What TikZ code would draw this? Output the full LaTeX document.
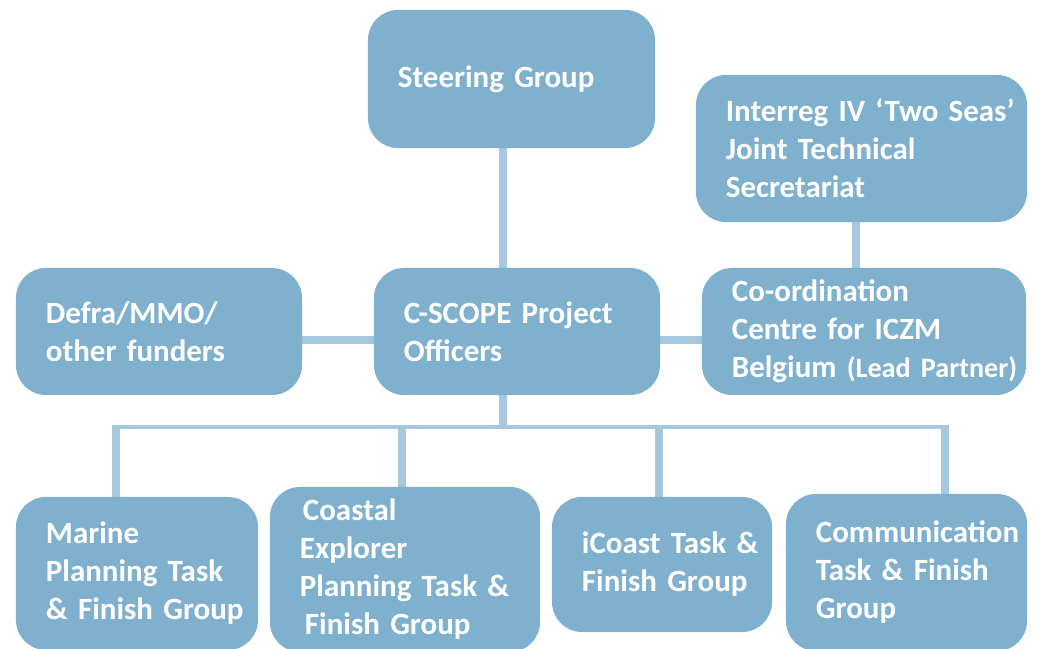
\documentclass[tikz,border=0pt]{standalone}
\usepackage{fontspec}
\setmainfont{Carlito}
\usetikzlibrary{positioning, backgrounds}
\definecolor{orgblue}{HTML}{7FB0CD}
\definecolor{linkblue}{HTML}{A6C8DC}
\tikzset{
  orgbox/.style={rectangle, rounded corners=0.75cm, fill=orgblue, text=white,
                 align=left, inner xsep=0.75cm, inner ysep=0pt,
                 font=\fontsize{22}{27}\selectfont\bfseries},
  link/.style={draw=linkblue, line width=0.2cm},
  bus/.style={draw=linkblue, line width=0.1cm},
}

\begin{document}
\begin{tikzpicture}[x=0.025cm, y=-0.025cm]
  \useasboundingbox (0,0) rectangle (1040,649);

  % top row
  \node[orgbox, text width=5.675cm, minimum height=3.45cm] (steer) at (511.5,79) {Steering Group};
  \node[orgbox, text width=6.775cm, minimum height=3.675cm] (jts) at (861.5,148.5)
    {\mbox{Interreg IV ‘Two Seas’}\\Joint Technical\\Secretariat};

  % middle row
  \node[orgbox, text width=5.65cm, minimum height=3.175cm] (defra) at (159,331.5) {Defra/MMO/\\other funders};
  \node[orgbox, text width=5.65cm, minimum height=3.175cm] (cscope) at (517,331.5) {C-SCOPE Project\\Officers};
  \node[orgbox, text width=6.6cm, minimum height=3.175cm] (icz) at (864,331.5)
    {Co-ordination\\Centre for ICZM\\\mbox{Belgium {\fontsize{20}{27}\selectfont(Lead Partner)}}};

  % task & finish groups
  \node[orgbox, text width=4.55cm, minimum height=3.825cm] (marine) at (137,573.5)
    {Marine\\\mbox{Planning Task}\\\mbox{\& Finish Group}};
  \node[orgbox, text width=5.25cm, minimum height=4.125cm] (coastal) at (405,569.5)
    {\hspace*{0.075cm}Coastal\\Explorer\\\mbox{Planning Task \&}\\\mbox{\hspace*{0.125cm}Finish Group}};
  \node[orgbox, text width=4cm, minimum height=3.375cm] (icoast) at (662,564.5)
    {\mbox{iCoast Task \&}\\\mbox{Finish Group}};
  \node[orgbox, text width=4.525cm, minimum height=3.925cm] (comms) at (906.5,572.5)
    {\mbox{Communication}\\\mbox{Task \& Finish}\\Group};

  % bus under the project officers
  \coordinate (trunk) at (503,427);
  \coordinate (t1) at (116,427);
  \coordinate (t2) at (402,427);
  \coordinate (t3) at (659,427);
  \coordinate (t4) at (945,427);

  \begin{scope}[on background layer]
    \draw[link] (steer.south -| trunk) -- (cscope.north -| trunk);
    \draw[link] ([xshift=-0.2cm]icz.north) -- ([xshift=-0.2cm]icz.north |- jts.south);
    \draw[link] ([yshift=-0.21cm]defra.east) -- ([yshift=-0.21cm]cscope.west);
    \draw[link] ([yshift=-0.21cm]cscope.east) -- ([yshift=-0.21cm]icz.west);
    \draw[link] (cscope.south -| trunk) -- (trunk);
    \draw[bus] ([xshift=-0.1cm]t1) -- ([xshift=0.1cm]t4);
    \draw[link] (t1) -- (t1 |- marine.north);
    \draw[link] (t2) -- (t2 |- coastal.north);
    \draw[link] (t3) -- (t3 |- icoast.north);
    \draw[link] (t4) -- (t4 |- comms.north);
  \end{scope}
\end{tikzpicture}
\end{document}
